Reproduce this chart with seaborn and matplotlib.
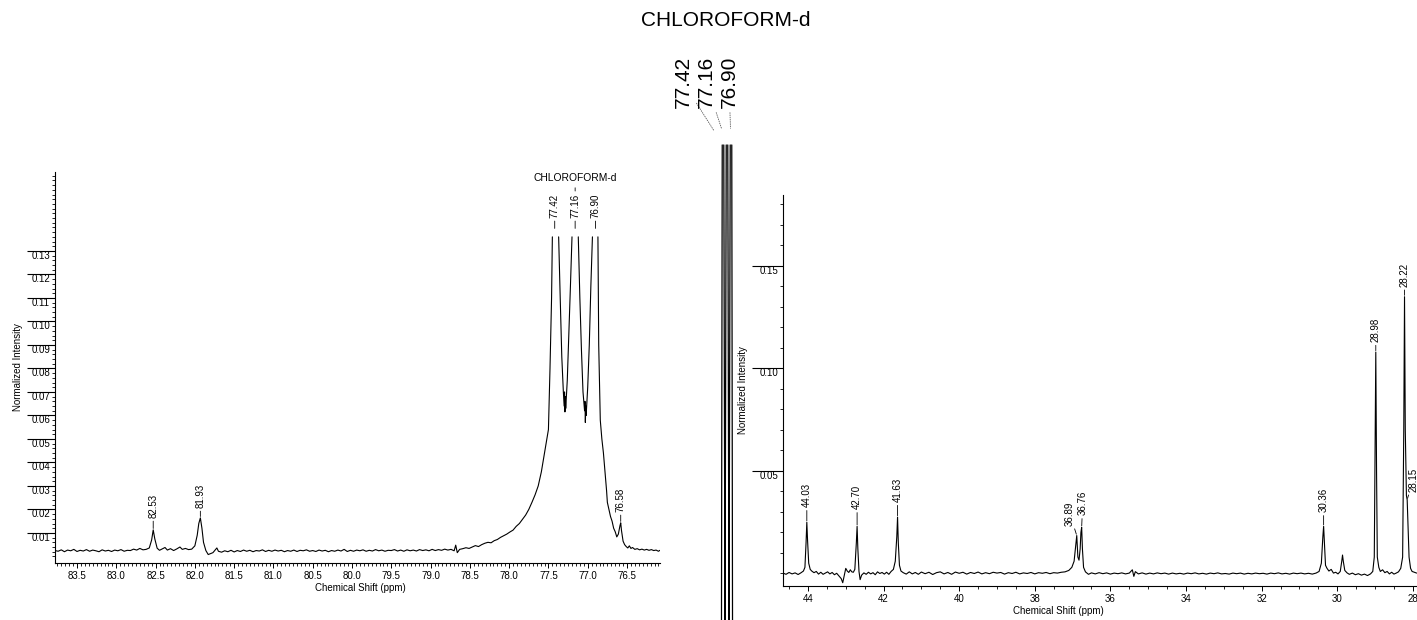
import numpy as np
import pandas as pd
import matplotlib
matplotlib.use('Agg')
import matplotlib.pyplot as plt
import seaborn as sns

nan = np.nan

# 13C spectrum, left window (83.8 - 76.1 ppm)
left_ppm = [83.78, 83.74, 83.70, 83.66, 83.62, 83.58, 83.54, 83.50, 83.46, 83.42, 83.38, 83.34,
            83.30, 83.26, 83.22, 83.18, 83.14, 83.10, 83.06, 83.02, 82.98, 82.94, 82.90, 82.86,
            82.82, 82.78, 82.74, 82.70, 82.66, 82.62, 82.58, 82.55, 82.53, 82.51, 82.48, 82.45,
            82.42, 82.38, 82.35, 82.31, 82.27, 82.23, 82.19, 82.16, 82.12, 82.08, 82.04, 82.00,
            81.97, 81.95, 81.93, 81.91, 81.89, 81.86, 81.83, 81.80, 81.77, 81.74, 81.72, 81.70,
            81.66, 81.62, 81.58, 81.54, 81.50, 81.46, 81.42, 81.38, 81.34, 81.30, 81.26, 81.22,
            81.18, 81.14, 81.10, 81.06, 81.02, 80.98, 80.94, 80.90, 80.86, 80.82, 80.78, 80.74,
            80.70, 80.66, 80.62, 80.58, 80.54, 80.50, 80.46, 80.42, 80.38, 80.34, 80.30, 80.26,
            80.22, 80.18, 80.14, 80.10, 80.06, 80.02, 79.98, 79.94, 79.90, 79.86, 79.82, 79.78,
            79.74, 79.70, 79.66, 79.62, 79.58, 79.54, 79.50, 79.46, 79.42, 79.38, 79.34, 79.30,
            79.26, 79.22, 79.18, 79.14, 79.10, 79.06, 79.02, 78.98, 78.94, 78.90, 78.86, 78.82,
            78.78, 78.74, 78.70, 78.68, 78.66, 78.63, 78.59, 78.55, 78.51, 78.47, 78.43, 78.39,
            78.35, 78.31, 78.27, 78.23, 78.19, 78.15, 78.11, 78.07, 78.03, 77.99, 77.95, 77.91,
            77.87, 77.83, 77.79, 77.75, 77.71, 77.67, 77.63, 77.59, 77.56, 77.53, 77.50, 77.48,
            77.46, 77.45, nan,
            77.37, 77.35, 77.33, 77.31, 77.30, 77.295, 77.29, 77.285, 77.28, 77.26, 77.24, 77.22,
            77.20, nan,
            77.12, 77.10, 77.08, 77.06, 77.04, 77.035, 77.03, 77.025, 77.02, 77.00, 76.98, 76.96,
            76.94, nan,
            76.87, 76.86, 76.84, 76.82, 76.80, 76.78, 76.76, 76.75, 76.73, 76.71, 76.69, 76.67,
            76.65, 76.63, 76.61, 76.59, 76.58, 76.57, 76.55, 76.53, 76.51, 76.49, 76.47, 76.45,
            76.43, 76.40, 76.37, 76.34, 76.31, 76.28, 76.25, 76.22, 76.19, 76.16, 76.13, 76.10,
            76.08]
left_int = [.0025, .0022, .0028, .0020, .0027, .0024, .0030, .0021, .0026, .0023, .0029, .0022,
            .0027, .0024, .0020, .0028, .0023, .0026, .0021, .0027, .0024, .0029, .0022, .0026,
            .0025, .0031, .0027, .0034, .0028, .0030, .0036, .0070, .0113, .0075, .0035, .0026,
            .0031, .0038, .0027, .0033, .0025, .0032, .0040, .0030, .0034, .0029, .0031, .0045,
            .0090, .0140, .0164, .0120, .0060, .0025, .0008, .0012, .0016, .0028, .0036, .0022,
            .0018, .0024, .0020, .0026, .0019, .0025, .0021, .0027, .0022, .0026, .0020, .0025,
            .0023, .0028, .0021, .0026, .0022, .0027, .0023, .0026, .0020, .0025, .0022, .0027,
            .0021, .0026, .0024, .0028, .0022, .0025, .0021, .0027, .0023, .0026, .0020, .0025,
            .0022, .0027, .0023, .0030, .0021, .0026, .0022, .0027, .0024, .0028, .0022, .0026,
            .0023, .0029, .0024, .0027, .0022, .0026, .0025, .0029, .0023, .0027, .0022, .0028,
            .0024, .0027, .0023, .0029, .0025, .0028, .0024, .0030, .0025, .0029, .0026, .0031,
            .0027, .0030, .0024, .0048, .0016, .0030, .0033, .0037, .0034, .0040, .0046, .0042,
            .0050, .0056, .0060, .0058, .0067, .0072, .0081, .0088, .0095, .0104, .0112, .0128,
            .0140, .0158, .0176, .0200, .0230, .0262, .0300, .0360, .0420, .0480, .0540, .0800,
            .1100, .1360, nan,
            .1360, .1100, .0850, .0700, .0640, .0700, .0615, .0680, .0630, .0750, .0950, .1150,
            .1360, nan,
            .1360, .1100, .0880, .0700, .0620, .0660, .0570, .0640, .0600, .0720, .0900, .1150,
            .1360, nan,
            .1360, .0900, .0580, .0500, .0440, .0360, .0280, .0230, .0200, .0170, .0150, .0120,
            .0105, .0083, .0095, .0130, .0143, .0110, .0065, .0050, .0042, .0036, .0045, .0034,
            .0038, .0030, .0033, .0028, .0031, .0027, .0030, .0026, .0029, .0025, .0027, .0022,
            .0026]

left_labels = [82.53, 81.93, 76.58]
left_label_heights = [0.0113, 0.0164, 0.0143]
cdcl3_labels = [77.42, 77.16, 76.90]

# right window (44.7 - 27.9 ppm)
right_ppm = [44.66, 44.58, 44.50, 44.42, 44.34, 44.26, 44.18, 44.12, 44.08, 44.05, 44.03, 44.01,
             43.98, 43.94, 43.90, 43.84, 43.78, 43.72, 43.66, 43.60, 43.54, 43.48, 43.42, 43.36,
             43.30, 43.24, 43.18, 43.12, 43.08, 43.04, 43.00, 42.96, 42.92, 42.88, 42.84, 42.80,
             42.76, 42.72, 42.70, 42.68, 42.65, 42.62, 42.58, 42.52, 42.46, 42.40, 42.34, 42.28,
             42.22, 42.16, 42.10, 42.04, 41.98, 41.92, 41.86, 41.80, 41.74, 41.69, 41.65, 41.63,
             41.61, 41.58, 41.54, 41.48, 41.40, 41.32, 41.24, 41.16, 41.08, 41.00, 40.90, 40.80,
             40.70, 40.60, 40.50, 40.40, 40.30, 40.20, 40.10, 40.00, 39.90, 39.80, 39.70, 39.60,
             39.50, 39.40, 39.30, 39.20, 39.10, 39.00, 38.90, 38.80, 38.70, 38.60, 38.50, 38.40,
             38.30, 38.20, 38.10, 38.00, 37.90, 37.80, 37.70, 37.60, 37.50, 37.40, 37.30, 37.20,
             37.10, 37.02, 36.96, 36.91, 36.89, 36.86, 36.83, 36.80, 36.78, 36.76, 36.74, 36.71,
             36.66, 36.58, 36.50, 36.40, 36.30, 36.20, 36.10, 36.00, 35.90, 35.80, 35.70, 35.60,
             35.50, 35.42, 35.38, 35.34, 35.26, 35.16, 35.06, 34.96, 34.86, 34.76, 34.66, 34.56,
             34.46, 34.36, 34.26, 34.16, 34.06, 33.96, 33.86, 33.76, 33.66, 33.56, 33.46, 33.36,
             33.26, 33.16, 33.06, 32.96, 32.86, 32.76, 32.66, 32.56, 32.46, 32.36, 32.26, 32.16,
             32.06, 31.96, 31.86, 31.76, 31.66, 31.56, 31.46, 31.36, 31.26, 31.16, 31.06, 30.96,
             30.86, 30.76, 30.66, 30.56, 30.48, 30.42, 30.38, 30.36, 30.34, 30.31, 30.27, 30.22,
             30.16, 30.10, 30.04, 29.98, 29.92, 29.88, 29.86, 29.84, 29.80, 29.74, 29.68, 29.60,
             29.52, 29.44, 29.36, 29.28, 29.20, 29.12, 29.06, 29.02, 29.00, 28.98, 28.96, 28.94,
             28.90, 28.86, 28.80, 28.74, 28.68, 28.62, 28.56, 28.50, 28.44, 28.38, 28.32, 28.27,
             28.24, 28.22, 28.20, 28.17, 28.15, 28.13, 28.10, 28.06, 28.02, 27.96, 27.90]
right_int = [.0002, -.0004, .0005, -.0002, .0003, -.0005, .0004, .0012, .0030, .0150, .0250, .0160,
             .0050, .0020, .0012, .0004, .0010, -.0003, .0006, -.0004, .0002, .0008, -.0002, .0005,
             -.0006, .0001, -.0012, -.0025, -.0045, -.0010, .0025, .0012, .0005, .0018, .0008, .0006,
             .0020, .0150, .0230, .0120, .0010, -.0030, -.0008, .0003, -.0004, .0006, -.0002, .0004,
             -.0006, .0008, .0000, .0005, -.0003, .0006, -.0004, .0010, .0020, .0060, .0180, .0275,
             .0150, .0040, .0012, .0004, -.0003, .0008, -.0002, .0005, -.0004, .0007, -.0001, .0006,
             -.0005, .0004, .0008, -.0002, .0005, -.0004, .0007, .0001, .0006, -.0003, .0005, .0000,
             .0007, -.0002, .0004, -.0001, .0006, .0002, .0005, -.0003, .0004, .0000, .0006, -.0002,
             .0003, .0000, .0005, -.0002, .0004, .0001, .0005, -.0001, .0004, .0002, .0006, .0008,
             .0015, .0030, .0060, .0150, .0185, .0080, .0065, .0120, .0200, .0225, .0120, .0030,
             .0008, -.0004, .0003, -.0002, .0004, -.0001, .0003, -.0003, .0002, -.0001, .0003, -.0002,
             .0002, .0018, -.0014, .0009, -.0002, .0003, -.0003, .0002, -.0002, .0003, -.0001, .0002,
             -.0003, .0002, -.0002, .0001, -.0003, .0002, -.0001, .0003, -.0002, .0001, -.0003, .0002,
             -.0001, .0003, -.0002, .0000, -.0003, .0002, -.0001, .0002, -.0003, .0001, -.0002, .0002,
             -.0001, .0001, -.0003, .0002, -.0001, .0003, -.0002, .0001, -.0003, .0002, -.0001, .0002,
             -.0002, .0001, -.0003, .0002, .0010, .0050, .0180, .0230, .0150, .0040, .0025, .0012,
             .0020, .0002, .0006, -.0002, .0010, .0060, .0090, .0060, .0015, .0003, -.0004, .0002,
             -.0006, -.0001, -.0008, -.0003, -.0010, -.0002, .0010, .0080, .0600, .1080, .0500, .0080,
             .0030, .0010, .0018, .0004, .0010, -.0002, .0006, -.0003, .0002, .0008, .0025, .0080,
             .0700, .1350, .0700, .0380, .0360, .0250, .0080, .0025, .0010, .0006, .0002]

right_labels = [44.03, 42.70, 41.63, 36.89, 36.76, 30.36, 28.98, 28.22, 28.15]
right_label_heights = [0.025, 0.023, 0.0275, 0.0185, 0.0225, 0.023, 0.108, 0.135, 0.036]

# compressed solvent lines shown in the narrow middle strip (tops run off scale)
strip_ppm = [77.52, 77.47, nan, 77.37, 77.29, 77.21, nan, 77.11, 77.03, 76.95, nan, 76.85, 76.80]
strip_int = [0.0, 0.99, nan, 0.99, 0.0, 0.99, nan, 0.99, 0.0, 0.99, nan, 0.99, 0.0]

sns.set_style('ticks')
plt.rcParams['font.family'] = ['Liberation Sans', 'DejaVu Sans']
plt.rcParams.update({'axes.linewidth': 0.8, 'text.color': 'black', 'axes.labelcolor': 'black',
                     'xtick.color': 'black', 'ytick.color': 'black', 'axes.edgecolor': 'black'})

W, H = 1417, 620
fig = plt.figure(figsize=(W / 100, H / 100), dpi=100)


def px_axes(x0, y0, x1, y1):
    # axes box given in picture pixels (origin top-left)
    return fig.add_axes([x0 / W, 1 - y1 / H, (x1 - x0) / W, (y1 - y0) / H])


def trace_frame(ppm, inten):
    df = pd.DataFrame({'ppm': ppm, 'intensity': inten})
    df['seg'] = df['intensity'].isna().cumsum()
    return df.dropna()


def draw_trace(ax, ppm, inten, lw=0.8):
    sns.lineplot(data=trace_frame(ppm, inten), x='ppm', y='intensity', units='seg',
                 estimator=None, sort=False, color='black', lw=lw, ax=ax)


def style_axes(ax, xmaj, xmin, xfmt, ymaj, ymin, ylen, ypad):
    sns.despine(ax=ax)
    ax.set_xticks(xmaj)
    ax.set_xticklabels([xfmt.format(v) for v in xmaj])
    ax.set_xticks(xmin, minor=True)
    ax.set_yticks(ymaj)
    ax.set_yticklabels(['{:.2f}'.format(v) for v in ymaj])
    ax.set_yticks(ymin, minor=True)
    ax.tick_params(axis='x', which='major', direction='out', length=3.5, width=0.7, pad=2.5, labelsize=7)
    ax.tick_params(axis='x', which='minor', direction='out', length=2, width=0.6)
    ax.tick_params(axis='y', which='major', direction='out', length=ylen, width=0.8, pad=ypad, labelsize=7)
    ax.tick_params(axis='y', which='minor', direction='out', length=2.5, width=0.6)
    for t in ax.get_yticklabels():
        t.set_va('top')


def peak_label(ax, p, h, dx, dy, size=7):
    ax.annotate(f'{p:.2f}', xy=(p, h), xytext=(dx, dy), textcoords='offset pixels',
                rotation=90, ha='center', va='bottom', fontsize=size,
                arrowprops=dict(arrowstyle='-', lw=0.6, color='black', shrinkA=0, shrinkB=1))


# ---- left window ----
ax_l = px_axes(55, 172, 660, 563)
draw_trace(ax_l, left_ppm, left_int)
ax_l.set_xlim(83.78, 76.08)
ax_l.set_ylim(-0.0028, 0.1636)
style_axes(ax_l, np.arange(76.5, 83.51, 0.5), np.arange(76.1, 83.78, 0.05), '{:.1f}',
           np.arange(0.01, 0.131, 0.01), np.arange(0.0, 0.163, 0.002), 20.2, -16.6)
ax_l.set_xlabel('Chemical Shift (ppm)', fontsize=7)
ax_l.set_ylabel('Normalized Intensity', fontsize=7)
ax_l.xaxis.set_label_coords(0.504, -0.052)
ax_l.yaxis.set_label_coords(-0.053, 0.5)

for p, h, off in zip(left_labels, left_label_heights, [(0, 12), (0, 10), (0, 11)]):
    peak_label(ax_l, p, h, *off)
for p in cdcl3_labels:
    peak_label(ax_l, p, 0.139, 0, 12)
ax_l.annotate('CHLOROFORM-d', xy=(77.16, 0.1555), xytext=(77.16, 0.161), ha='center', va='center',
              fontsize=7.4, arrowprops=dict(arrowstyle='-', lw=0.6, color='black', shrinkA=1, shrinkB=0))

# ---- right window ----
ax_r = px_axes(783, 195, 1417, 586)
draw_trace(ax_r, right_ppm, right_int)
ax_r.set_xlim(44.66, 27.89)
ax_r.set_ylim(-0.0061, 0.1846)
style_axes(ax_r, np.arange(28, 44.1, 2), np.arange(28, 44.6, 0.5), '{:.0f}',
           [0.05, 0.10, 0.15], np.arange(0.0, 0.185, 0.01), 22.3, -18.7)
ax_r.set_xlabel('Chemical Shift (ppm)', fontsize=7)
ax_r.set_ylabel('Normalized Intensity', fontsize=7)
ax_r.xaxis.set_label_coords(0.434, -0.05)
ax_r.yaxis.set_label_coords(-0.055, 0.5)

right_offsets = [(0, 15), (0, 17), (0, 15), (-7, 10), (1, 12), (0, 14), (0, 10), (0, 10), (6, 8)]
for p, h, off in zip(right_labels, right_label_heights, right_offsets):
    peak_label(ax_r, p, h, *off)

# ---- middle strip with the solvent triplet ----
ax_s = px_axes(716, 140, 738, 620)
draw_trace(ax_s, strip_ppm, strip_int, lw=0.9)
ax_s.set_xlim(77.875, 76.445)
ax_s.set_ylim(0.03, 1.0)
ax_s.axis('off')

for p, xpix in zip(cdcl3_labels, [683, 706, 729]):
    ax_s.annotate(f'{p:.2f}', xy=(p, 0.99), xytext=(xpix, H - 108), textcoords='figure pixels',
                  rotation=90, ha='center', va='bottom', fontsize=15, annotation_clip=False,
                  arrowprops=dict(arrowstyle='-', lw=0.6, color='0.35', ls=':', shrinkA=1, shrinkB=12))
fig.text(726 / W, 1 - 20 / H, 'CHLOROFORM-d', ha='center', va='center', fontsize=15)

fig.savefig('out.png', dpi=100)
